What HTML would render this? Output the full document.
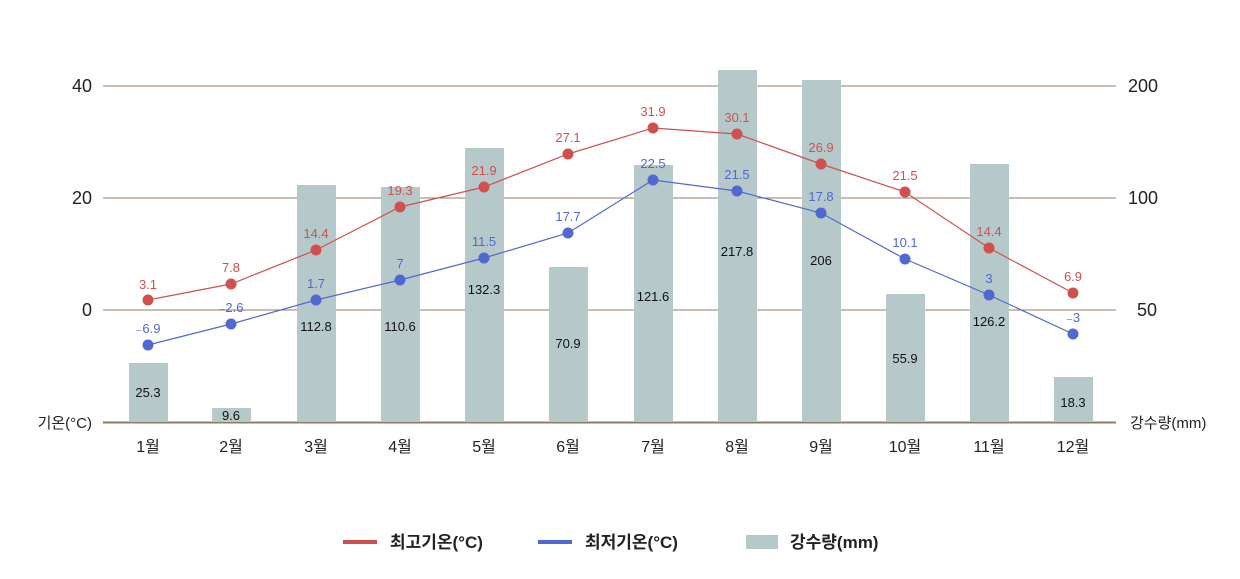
<!DOCTYPE html>
<html><head><meta charset="utf-8"><style>
body{margin:0;background:#fff;width:1240px;height:574px;overflow:hidden}
svg{font-family:"Liberation Sans","Noto Sans CJK KR",sans-serif}
</style></head><body>
<svg width="1240" height="574" xmlns="http://www.w3.org/2000/svg">
<g stroke="#957a62" stroke-width="1">
<line x1="103" x2="1116" y1="86" y2="86"/><line x1="103" x2="1116" y1="198" y2="198"/><line x1="103" x2="1116" y1="310" y2="310"/>
</g>
<line x1="103" x2="1116" y1="422.5" y2="422.5" stroke="#957a62" stroke-width="2"/>
<g font-size="18" fill="#222">
<text x="92" y="92" text-anchor="end">40</text><text x="92" y="204" text-anchor="end">20</text><text x="92" y="316" text-anchor="end">0</text>
<text x="92" y="428" text-anchor="end" font-size="15">기온(°C)</text>
<text x="1128" y="92">200</text><text x="1128" y="204">100</text><text x="1137" y="316">50</text>
<text x="1130" y="428" font-size="15">강수량(mm)</text>
</g>
<g fill="#b5c9cb">
<rect x="129" y="363" width="39" height="59"/><rect x="212" y="408" width="39" height="14"/>
<rect x="297" y="185" width="39" height="237"/><rect x="381" y="187" width="39" height="235"/>
<rect x="465" y="148" width="39" height="274"/><rect x="549" y="267" width="39" height="155"/>
<rect x="634" y="165" width="39" height="257"/><rect x="718" y="70" width="39" height="352"/>
<rect x="802" y="80" width="39" height="342"/><rect x="886" y="294" width="39" height="128"/>
<rect x="970" y="164" width="39" height="258"/><rect x="1054" y="377" width="39" height="45"/>
</g>
<g font-size="13" fill="#111" text-anchor="middle">
<text x="148" y="397">25.3</text><text x="231" y="420">9.6</text><text x="316" y="331">112.8</text><text x="400" y="331">110.6</text>
<text x="484" y="294">132.3</text><text x="568" y="348">70.9</text><text x="653" y="301">121.6</text><text x="737" y="256">217.8</text>
<text x="821" y="265">206</text><text x="905" y="363">55.9</text><text x="989" y="326">126.2</text><text x="1073" y="407">18.3</text>
</g>
<polyline fill="none" stroke="#d05050" stroke-width="1.2" points="148,300 231,284 316,250 400,207 484,187 568,154 653,128 737,134 821,164 905,192 989,248 1073,293"/>
<polyline fill="none" stroke="#5068d0" stroke-width="1.2" points="148,345 231,324 316,300 400,280 484,258 568,233 653,180 737,191 821,213 905,259 989,295 1073,334"/>
<g fill="#d05050">
<circle cx="148" cy="300" r="5.5"/><circle cx="231" cy="284" r="5.5"/><circle cx="316" cy="250" r="5.5"/><circle cx="400" cy="207" r="5.5"/><circle cx="484" cy="187" r="5.5"/><circle cx="568" cy="154" r="5.5"/><circle cx="653" cy="128" r="5.5"/><circle cx="737" cy="134" r="5.5"/><circle cx="821" cy="164" r="5.5"/><circle cx="905" cy="192" r="5.5"/><circle cx="989" cy="248" r="5.5"/><circle cx="1073" cy="293" r="5.5"/>
</g>
<g fill="#5068d0">
<circle cx="148" cy="345" r="5.5"/><circle cx="231" cy="324" r="5.5"/><circle cx="316" cy="300" r="5.5"/><circle cx="400" cy="280" r="5.5"/><circle cx="484" cy="258" r="5.5"/><circle cx="568" cy="233" r="5.5"/><circle cx="653" cy="180" r="5.5"/><circle cx="737" cy="191" r="5.5"/><circle cx="821" cy="213" r="5.5"/><circle cx="905" cy="259" r="5.5"/><circle cx="989" cy="295" r="5.5"/><circle cx="1073" cy="334" r="5.5"/>
</g>
<g font-size="13" fill="#d05050" text-anchor="middle">
<text x="148" y="289">3.1</text><text x="231" y="272">7.8</text><text x="316" y="238">14.4</text><text x="400" y="195">19.3</text><text x="484" y="175">21.9</text><text x="568" y="142">27.1</text><text x="653" y="116">31.9</text><text x="737" y="122">30.1</text><text x="821" y="152">26.9</text><text x="905" y="180">21.5</text><text x="989" y="236">14.4</text><text x="1073" y="281">6.9</text>
</g>
<g font-size="13" fill="#5068d0" text-anchor="middle">
<text x="148" y="333">₋6.9</text><text x="231" y="312">₋2.6</text><text x="316" y="288">1.7</text><text x="400" y="268">7</text><text x="484" y="246">11.5</text><text x="568" y="221">17.7</text><text x="653" y="168">22.5</text><text x="737" y="179">21.5</text><text x="821" y="201">17.8</text><text x="905" y="247">10.1</text><text x="989" y="283">3</text><text x="1073" y="322">₋3</text>
</g>
<g font-size="16" fill="#222" text-anchor="middle">
<text x="148" y="452">1월</text><text x="231" y="452">2월</text><text x="316" y="452">3월</text><text x="400" y="452">4월</text><text x="484" y="452">5월</text><text x="568" y="452">6월</text><text x="653" y="452">7월</text><text x="737" y="452">8월</text><text x="821" y="452">9월</text><text x="905" y="452">10월</text><text x="989" y="452">11월</text><text x="1073" y="452">12월</text>
</g>
<rect x="343" y="540" width="34" height="4" fill="#d05050"/>
<rect x="538" y="540" width="34" height="4" fill="#5068d0"/>
<rect x="746" y="535" width="32" height="14" fill="#b5c9cb"/>
<g font-size="17" font-weight="bold" fill="#222">
<text x="390" y="548">최고기온(°C)</text><text x="585" y="548">최저기온(°C)</text><text x="790" y="548">강수량(mm)</text>
</g>
</svg>
</body></html>
